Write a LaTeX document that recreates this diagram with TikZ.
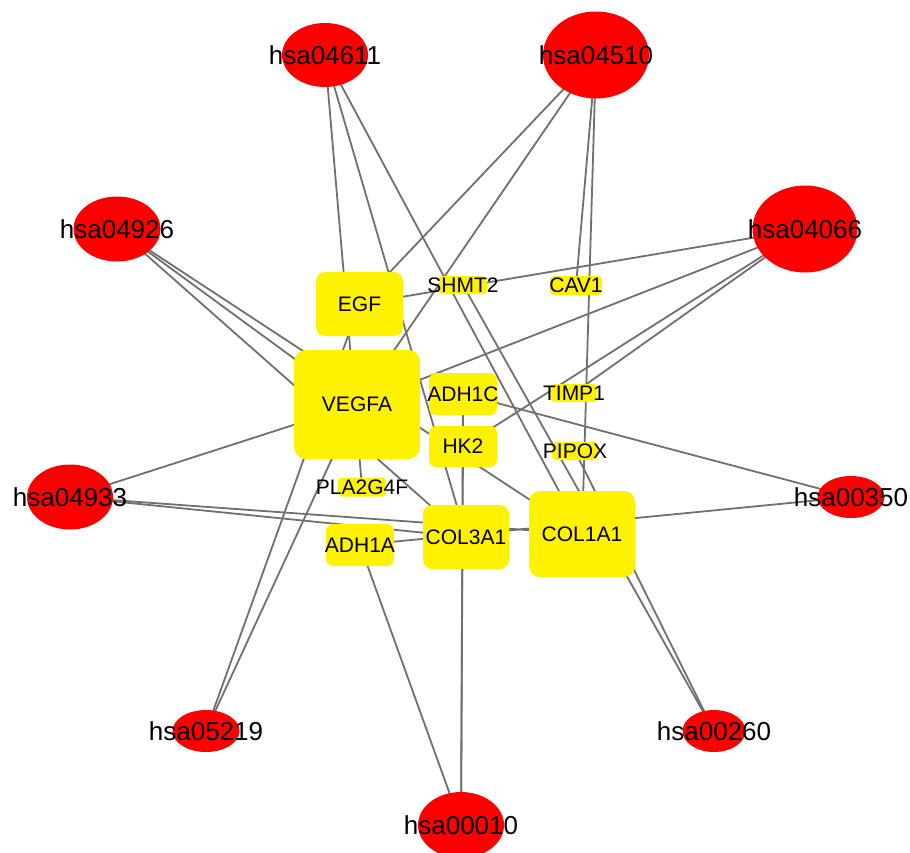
\documentclass[tikz,border=0pt]{standalone}
\usepackage{fontspec}
\setmainfont{Liberation Sans}
\usetikzlibrary{shapes.geometric}
\pgfdeclarelayer{background}
\pgfsetlayers{background,main}
\definecolor{edgegray}{RGB}{112,112,112}
\begin{document}
\begin{tikzpicture}[x=1pt,y=-1pt,
  pw/.style={ellipse, fill=red, draw=none, inner sep=0pt},
  gn/.style={rectangle, rounded corners=9pt, fill=yellow, draw=none, inner sep=0pt},
  gs/.style={rectangle, rounded corners=4pt, fill=yellow, draw=none, inner sep=0pt},
  plab/.style={font=\fontsize{26}{30}\selectfont, inner sep=0pt, text=black},
  glab/.style={font=\fontsize{21}{24}\selectfont, inner sep=0pt, text=black},
  lnk/.style={draw=edgegray, line width=1.8pt}
]
\useasboundingbox (0,0) rectangle (910,852);

% pathway nodes
\node[pw, minimum width=86pt, minimum height=64pt, label={[plab]center:hsa04611}] (p04611) at (325,55) {};
\node[pw, minimum width=106pt, minimum height=87pt, label={[plab]center:hsa04510}] (p04510) at (596,55) {};
\node[pw, minimum width=87pt, minimum height=65pt, label={[plab]center:hsa04926}] (p04926) at (117,229) {};
\node[pw, minimum width=105pt, minimum height=87pt, label={[plab]center:hsa04066}] (p04066) at (805,229) {};
\node[pw, minimum width=86pt, minimum height=65pt, label={[plab]center:hsa04933}] (p04933) at (70,497) {};
\node[pw, minimum width=67pt, minimum height=42pt, label={[plab]center:hsa00350}] (p00350) at (851,497) {};
\node[pw, minimum width=67pt, minimum height=42pt, label={[plab]center:hsa05219}] (p05219) at (206,731) {};
\node[pw, minimum width=63pt, minimum height=42pt, label={[plab]center:hsa00260}] (p00260) at (714,731) {};
\node[pw, minimum width=86pt, minimum height=66pt, label={[plab]center:hsa00010}] (p00010) at (461,825) {};

% gene nodes
\node[gn, minimum width=87pt, minimum height=64pt, label={[glab]center:EGF}] (egf) at (359.5,304) {};
\node[gn, rounded corners=12pt, minimum width=126pt, minimum height=109pt, label={[glab]center:VEGFA}] (vegfa) at (357,404.5) {};
\node[gs, minimum width=48pt, minimum height=18pt, label={[glab]center:SHMT2}] (shmt2) at (463,285) {};
\node[gs, minimum width=52pt, minimum height=19pt, label={[glab]center:CAV1}] (cav1) at (576,285.5) {};
\node[gn, rounded corners=7pt, minimum width=68pt, minimum height=42pt, label={[glab]center:ADH1C}] (adh1c) at (463,394) {};
\node[gs, minimum width=47pt, minimum height=18pt, label={[glab]center:TIMP1}] (timp1) at (574,393) {};
\node[gn, rounded corners=7pt, minimum width=68pt, minimum height=41pt, label={[glab]center:HK2}] (hk2) at (463,446.5) {};
\node[gs, minimum width=46pt, minimum height=18pt, label={[glab]center:PIPOX}] (pipox) at (575,451) {};
\node[gs, minimum width=48pt, minimum height=19pt, label={[glab]center:PLA2G4F}] (pla2g4f) at (362,487) {};
\node[gn, rounded corners=7pt, minimum width=68pt, minimum height=42pt, label={[glab]center:ADH1A}] (adh1a) at (360,545) {};
\node[gn, minimum width=86pt, minimum height=64pt, label={[glab]center:COL3A1}] (col3a1) at (466,537) {};
\node[gn, rounded corners=11pt, minimum width=106pt, minimum height=86pt, label={[glab]center:COL1A1}] (col1a1) at (582,534) {};

\begin{pgfonlayer}{background}
\foreach \a/\b in {p04611/pla2g4f, p04611/col3a1, p04611/col1a1,
  p04510/egf, p04510/vegfa, p04510/cav1, p04510/col1a1,
  p04066/egf, p04066/vegfa, p04066/timp1, p04066/hk2,
  p04926/vegfa, p04926/col1a1, p04926/col3a1,
  p04933/vegfa, p04933/col3a1, p04933/col1a1,
  p00350/adh1c, p00350/adh1a,
  p00010/adh1a, p00010/hk2, p00010/adh1c,
  p00260/shmt2, p00260/pipox,
  p05219/egf, p05219/vegfa}
  \draw[lnk] (\a.center) -- (\b.center);
\end{pgfonlayer}
\end{tikzpicture}
\end{document}
